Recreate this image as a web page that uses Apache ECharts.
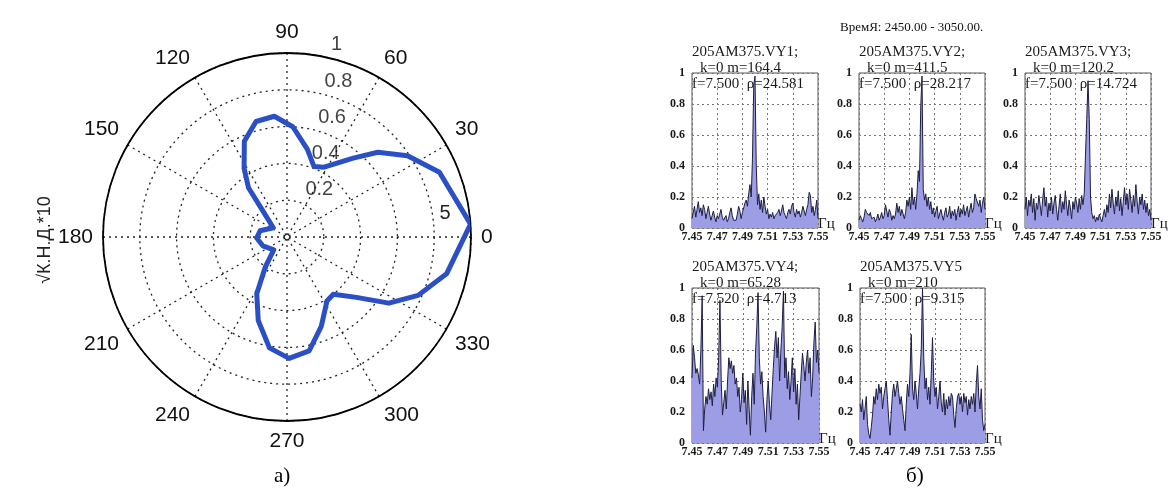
<!DOCTYPE html>
<html>
<head>
<meta charset="utf-8">
<script src="https://cdn.jsdelivr.net/npm/echarts@6/dist/echarts.min.js"></script>
<style>
  html, body { margin: 0; padding: 0; background: #fff; }
  #chart { width: 1170px; height: 497px; }
</style>
</head>
<body>
<div id="chart"></div>
<script>
// ---- polar pattern (a): [radius, angle in degrees]
const polarRadius = [1.0, 0.90, 0.79, 0.675, 0.56, 0.43, 0.41, 0.49, 0.60, 0.66, 0.65, 0.57, 0.44, 0.34, 0.19, 0.09,
  0.15, 0.165, 0.14, 0.10, 0.20, 0.35, 0.48, 0.61, 0.66, 0.63, 0.52, 0.41, 0.40, 0.50, 0.66, 0.78, 0.89, 1.0];
const polarAngle = [4, 23, 34, 43, 50, 62, 69, 77, 87, 96, 105, 114, 122, 128, 133, 146,
  167, 182, 200, 224, 234, 242, 251, 261, 271, 281, 291, 302, 309, 319, 327, 336, 347, 4];
const radiusTicks = [0.2, 0.4, 0.6, 0.8, 1];

// ---- spectra (b): amplitude samples from 7.450 to 7.550 Hz, step 0.001
const freqStart = 7.45;
const freqStep = 0.001;

const vy1 = [0.06, 0.10, 0.14, 0.07, 0.12, 0.17, 0.10, 0.13, 0.08, 0.15, 0.12, 0.06, 0.10, 0.14, 0.09, 0.05, 0.08,
  0.11, 0.07, 0.04, 0.08, 0.06, 0.09, 0.12, 0.07, 0.05, 0.06, 0.08, 0.04, 0.06, 0.10, 0.13, 0.08, 0.05, 0.06, 0.05,
  0.09, 0.14, 0.11, 0.06, 0.10, 0.13, 0.16, 0.18, 0.14, 0.22, 0.28, 0.20, 0.45, 0.92, 0.98, 0.40, 0.15, 0.22, 0.12,
  0.18, 0.10, 0.20, 0.14, 0.09, 0.12, 0.06, 0.09, 0.07, 0.10, 0.06, 0.08, 0.07, 0.10, 0.12, 0.08, 0.11, 0.15, 0.10,
  0.08, 0.06, 0.10, 0.12, 0.09, 0.14, 0.16, 0.10, 0.07, 0.12, 0.09, 0.11, 0.07, 0.10, 0.14, 0.11, 0.08, 0.12, 0.15,
  0.23, 0.21, 0.10, 0.14, 0.08, 0.12, 0.18, 0.06];

const vy2 = [0.05, 0.08, 0.06, 0.04, 0.07, 0.12, 0.10, 0.11, 0.08, 0.10, 0.06, 0.05, 0.07, 0.04, 0.06, 0.09, 0.05,
  0.07, 0.10, 0.06, 0.08, 0.15, 0.11, 0.07, 0.12, 0.10, 0.05, 0.08, 0.06, 0.09, 0.16, 0.10, 0.14, 0.08, 0.12, 0.09,
  0.06, 0.10, 0.18, 0.14, 0.20, 0.12, 0.26, 0.15, 0.20, 0.12, 0.22, 0.37, 0.30, 0.78, 0.98, 0.25, 0.18, 0.22, 0.14,
  0.20, 0.12, 0.17, 0.09, 0.13, 0.07, 0.11, 0.14, 0.06, 0.09, 0.12, 0.08, 0.05, 0.10, 0.13, 0.07, 0.09, 0.14, 0.06,
  0.11, 0.08, 0.12, 0.05, 0.10, 0.14, 0.07, 0.12, 0.09, 0.15, 0.08, 0.11, 0.14, 0.07, 0.12, 0.16, 0.10, 0.13, 0.22,
  0.19, 0.20, 0.14, 0.18, 0.10, 0.16, 0.20, 0.12];

const vy3 = [0.12, 0.20, 0.08, 0.18, 0.14, 0.22, 0.10, 0.19, 0.05, 0.16, 0.12, 0.21, 0.15, 0.08, 0.18, 0.26, 0.14,
  0.20, 0.07, 0.16, 0.11, 0.20, 0.09, 0.16, 0.21, 0.12, 0.05, 0.14, 0.22, 0.10, 0.17, 0.12, 0.24, 0.15, 0.08, 0.18,
  0.13, 0.06, 0.17, 0.12, 0.20, 0.16, 0.10, 0.19, 0.12, 0.21, 0.15, 0.22, 0.47, 0.70, 0.95, 0.70, 0.20, 0.10, 0.06,
  0.08, 0.04, 0.07, 0.05, 0.09, 0.06, 0.04, 0.08, 0.12, 0.07, 0.15, 0.10, 0.22, 0.13, 0.25, 0.16, 0.09, 0.20, 0.14,
  0.24, 0.11, 0.19, 0.08, 0.17, 0.26, 0.15, 0.22, 0.12, 0.25, 0.18, 0.10, 0.21, 0.14, 0.28, 0.17, 0.09, 0.20, 0.15,
  0.22, 0.12, 0.18, 0.10, 0.16, 0.08, 0.12, 0.05];

const vy4 = [0.42, 0.63, 0.55, 0.45, 0.48, 0.44, 0.38, 0.60, 0.95, 0.08, 0.22, 0.30, 0.25, 0.35, 0.28, 0.33, 0.24,
  0.38, 0.30, 0.42, 0.36, 0.55, 0.92, 0.40, 0.18, 0.26, 0.34, 0.22, 0.40, 0.55, 0.48, 0.53, 0.45, 0.50, 0.38, 0.42,
  0.30, 0.36, 0.20, 0.28, 0.45, 0.26, 0.34, 0.12, 0.40, 0.22, 0.05, 0.30, 0.45, 0.25, 0.58, 0.75, 0.97, 0.55, 0.38,
  0.46, 0.30, 0.20, 0.07, 0.28, 0.40, 0.25, 0.15, 0.32, 0.48, 0.62, 0.72, 0.55, 0.68, 0.40, 0.60, 0.75, 0.98, 0.42,
  0.55, 0.35, 0.46, 0.28, 0.40, 0.55, 0.33, 0.48, 0.25, 0.38, 0.15, 0.30, 0.45, 0.58, 0.50, 0.40, 0.52, 0.60, 0.45,
  0.55, 0.30, 0.42, 0.65, 0.78, 0.52, 0.60, 0.45];

const vy5 = [0.25, 0.20, 0.28, 0.15, 0.22, 0.30, 0.12, 0.06, 0.03, 0.10, 0.18, 0.30, 0.25, 0.35, 0.28, 0.38, 0.32,
  0.36, 0.22, 0.30, 0.35, 0.40, 0.28, 0.15, 0.05, 0.20, 0.32, 0.38, 0.30, 0.35, 0.40, 0.32, 0.25, 0.30, 0.22, 0.15,
  0.08, 0.25, 0.38, 0.30, 0.45, 0.70, 0.35, 0.28, 0.40, 0.32, 0.22, 0.35, 0.45, 0.60, 1.00, 0.55, 0.35, 0.42, 0.28,
  0.36, 0.25, 0.45, 0.68, 0.40, 0.30, 0.36, 0.22, 0.30, 0.40, 0.26, 0.20, 0.32, 0.18, 0.28, 0.22, 0.30, 0.24, 0.32,
  0.30, 0.18, 0.10, 0.22, 0.30, 0.32, 0.25, 0.30, 0.20, 0.32, 0.26, 0.30, 0.18, 0.28, 0.22, 0.30, 0.25, 0.32, 0.20,
  0.38, 0.50, 0.30, 0.22, 0.35, 0.15, 0.08, 0.12];

const panelNames = ['205AM375.VY1;', '205AM375.VY2;', '205AM375.VY3;', '205AM375.VY4;', '205AM375.VY5'];
const panelM = ['k=0 m=164.4', 'k=0 m=411.5', 'k=0 m=120.2', 'k=0 m=65.28', 'k=0 m=210'];
const panelF = ['f=7.500  \u03c1=24.581', 'f=7.500  \u03c1=28.217', 'f=7.500  \u03c1=14.724', 'f=7.520  \u03c1=4.713', 'f=7.500  \u03c1=9.315'];
const panelValues = [vy1, vy2, vy3, vy4, vy5];

// panel boxes (left, top, width) in px
const boxes = [[692, 73, 126], [859, 73, 126], [1025, 73, 126], [692, 288, 127], [860, 288, 125]];
const boxHeight = 155;

const serif = '"Liberation Serif", "DejaVu Serif", serif';
const sans = '"Liberation Sans", Arial, sans-serif';

const chart = echarts.init(document.getElementById('chart'), null, { renderer: 'canvas' });

const titles = [
  { text: '\u0412\u0440\u0435\u043c\u042f: 2450.00 - 3050.00.', left: 840, top: 21, padding: 0,
    textStyle: { fontFamily: serif, fontSize: 13, fontWeight: 'normal', color: '#111' } },
  { text: '\u0430)', left: 274, top: 466, padding: 0,
    textStyle: { fontFamily: serif, fontSize: 21, fontWeight: 'normal', color: '#000' } },
  { text: '\u0431)', left: 906, top: 466, padding: 0,
    textStyle: { fontFamily: serif, fontSize: 21, fontWeight: 'normal', color: '#000' } },
];

const grids = [];
const xAxes = [];
const yAxes = [];
const series = [];

panelValues.forEach((vals, i) => {
  const [left, top, width] = boxes[i];
  const txt = { fontFamily: serif, fontSize: 15, fontWeight: 'normal', color: '#1a1a1a' };
  titles.push({ text: panelNames[i], left: left, top: top - 28, padding: 0, textStyle: txt });
  titles.push({ text: panelM[i], left: left + 8, top: top - 12, padding: 0, textStyle: txt });
  titles.push({ text: panelF[i], left: left, top: top + 4, padding: 0, textStyle: txt });
  // frequency unit just past the lower right corner
  titles.push({ text: '\u0413\u0446', left: left + width, top: top + boxHeight - 11, padding: 0, textStyle: txt });

  grids.push({ left: left, top: top, width: width, height: boxHeight, show: true,
    borderColor: '#555', borderWidth: 1, backgroundColor: 'transparent' });

  const dotted = { show: true, lineStyle: { type: [2, 3], color: '#777', width: 1 } };
  xAxes.push({
    type: 'value', gridIndex: i, min: 7.45, max: 7.55, interval: 0.02, z: 3,
    axisLine: { show: false }, axisTick: { show: false }, splitLine: dotted,
    axisLabel: { margin: 3, fontFamily: serif, fontWeight: 'bold', fontSize: 12, color: '#1a1a1a',
      formatter: v => v.toFixed(2) },
  });
  yAxes.push({
    type: 'value', gridIndex: i, min: 0, max: 1, interval: 0.2, z: 3,
    axisLine: { show: false }, axisTick: { show: false }, splitLine: dotted,
    axisLabel: { margin: 7, fontFamily: serif, fontWeight: 'bold', fontSize: 12, color: '#1a1a1a',
      formatter: v => (v === 0 ? '0' : v === 1 ? '1' : v.toFixed(1)) },
  });
  series.push({
    type: 'line', xAxisIndex: i, yAxisIndex: i, symbol: 'none', silent: true,
    data: vals.map((v, k) => [freqStart + k * freqStep, v]),
    lineStyle: { color: '#1e1e44', width: 1 },
    areaStyle: { color: '#9d9de6', opacity: 1 },
  });
});

// polar curve and radius labels
series.push({
  type: 'line', coordinateSystem: 'polar', polarIndex: 0, symbol: 'none', silent: true,
  data: polarRadius.map((r, k) => [r, polarAngle[k]]),
  lineStyle: { color: '#2b50c6', width: 5, join: 'round' }, z: 5,
});
series.push({
  type: 'scatter', coordinateSystem: 'polar', polarIndex: 0, symbolSize: 0, silent: true,
  data: radiusTicks.map(r => [r, 80]),
  label: { show: true, position: 'right', distance: 12, offset: [0, -11],
    formatter: p => String(p.value[0]), fontFamily: sans, fontSize: 20, color: '#111' },
});

const option = {
  animation: false,
  backgroundColor: '#fff',
  title: titles,
  polar: { center: [287, 237], radius: 184 },
  angleAxis: {
    type: 'value', min: 0, max: 360, interval: 30, startAngle: 0, clockwise: false,
    axisLine: { show: true, lineStyle: { color: '#000', width: 1.8 } },
    axisTick: { show: false },
    axisLabel: { margin: 10, fontFamily: sans, fontSize: 21, color: '#111',
      formatter: v => (v === 360 ? '' : String(v)) },
    splitLine: { show: true, lineStyle: { type: [2, 4], color: '#222', width: 1.3 } },
  },
  radiusAxis: {
    type: 'value', min: 0, max: 1, interval: 0.2,
    axisLine: { show: false }, axisTick: { show: false }, axisLabel: { show: false },
    splitLine: { show: true, lineStyle: { type: [2, 4], color: '#222', width: 1.3 } },
  },
  grid: grids,
  xAxis: xAxes,
  yAxis: yAxes,
  series: series,
  graphic: [
    { type: 'text', x: 45, y: 240, rotation: Math.PI / 2,
      style: { text: '\u221a\u041a.\u041d.\u0414.*10', font: '18px ' + sans, fill: '#222',
        align: 'center', verticalAlign: 'middle' } },
    { type: 'text', x: 445, y: 213,
      style: { text: '5', font: '20px ' + sans, fill: '#222', align: 'center', verticalAlign: 'middle' } },
  ],
};

chart.setOption(option);
</script>
</body>
</html>
